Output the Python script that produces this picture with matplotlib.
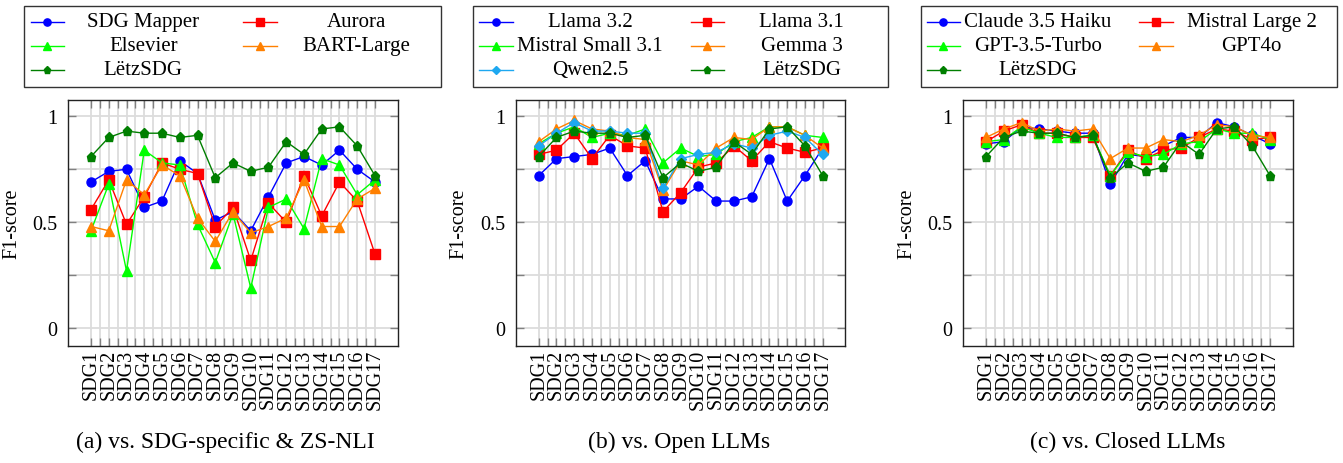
import matplotlib

matplotlib.use("Agg")

import matplotlib.pyplot as plt
from matplotlib.lines import Line2D
from matplotlib.patches import Rectangle
from matplotlib.ticker import FixedLocator, MultipleLocator

plt.rcParams["font.family"] = ["Liberation Serif", "DejaVu Serif"]

W, H = 1343, 464

sdg_labels = ["SDG1", "SDG2", "SDG3", "SDG4", "SDG5", "SDG6", "SDG7", "SDG8", "SDG9",
              "SDG10", "SDG11", "SDG12", "SDG13", "SDG14", "SDG15", "SDG16", "SDG17"]

# shared baseline (ours)
letzsdg = [0.81, 0.90, 0.93, 0.92, 0.92, 0.90, 0.91, 0.71, 0.78, 0.74, 0.76, 0.88, 0.82, 0.94, 0.95, 0.86, 0.72]

# (a) SDG-specific & ZS-NLI
sdg_mapper = [0.69, 0.74, 0.75, 0.57, 0.60, 0.79, 0.73, 0.51, 0.55, 0.46, 0.62, 0.78, 0.81, 0.77, 0.84, 0.75, 0.69]
aurora = [0.56, 0.70, 0.49, 0.62, 0.78, 0.75, 0.73, 0.48, 0.57, 0.32, 0.59, 0.50, 0.72, 0.53, 0.69, 0.60, 0.35]
elsevier = [0.46, 0.68, 0.27, 0.84, 0.78, 0.77, 0.49, 0.31, 0.54, 0.19, 0.57, 0.61, 0.47, 0.80, 0.77, 0.63, 0.70]
bart_large = [0.48, 0.46, 0.70, 0.63, 0.77, 0.72, 0.52, 0.41, 0.55, 0.45, 0.48, 0.52, 0.70, 0.48, 0.48, 0.61, 0.66]

# (b) open LLMs
llama32 = [0.72, 0.80, 0.81, 0.82, 0.85, 0.72, 0.79, 0.61, 0.61, 0.67, 0.60, 0.60, 0.62, 0.80, 0.60, 0.72, 0.85]
llama31 = [0.82, 0.84, 0.92, 0.80, 0.91, 0.86, 0.85, 0.55, 0.64, 0.76, 0.78, 0.86, 0.79, 0.88, 0.85, 0.83, 0.85]
mistral_small = [0.87, 0.92, 0.95, 0.90, 0.92, 0.91, 0.94, 0.78, 0.85, 0.81, 0.82, 0.88, 0.90, 0.95, 0.95, 0.91, 0.90]
gemma3 = [0.88, 0.94, 0.98, 0.94, 0.93, 0.90, 0.89, 0.65, 0.79, 0.77, 0.85, 0.90, 0.89, 0.95, 0.95, 0.91, 0.85]
qwen25 = [0.86, 0.92, 0.97, 0.93, 0.93, 0.92, 0.92, 0.66, 0.80, 0.82, 0.83, 0.87, 0.85, 0.91, 0.93, 0.90, 0.82]

# (c) closed LLMs
claude_haiku = [0.87, 0.88, 0.95, 0.94, 0.93, 0.92, 0.92, 0.68, 0.82, 0.81, 0.86, 0.90, 0.90, 0.97, 0.95, 0.91, 0.87]
mistral_large = [0.88, 0.93, 0.96, 0.92, 0.92, 0.90, 0.90, 0.72, 0.84, 0.80, 0.84, 0.85, 0.90, 0.94, 0.93, 0.89, 0.90]
gpt35 = [0.88, 0.89, 0.95, 0.92, 0.90, 0.90, 0.91, 0.72, 0.83, 0.81, 0.82, 0.87, 0.88, 0.94, 0.92, 0.92, 0.89]
gpt4o = [0.90, 0.94, 0.97, 0.93, 0.94, 0.93, 0.94, 0.80, 0.85, 0.85, 0.89, 0.88, 0.91, 0.96, 0.95, 0.91, 0.90]

BLUE = dict(color="#0000ff", marker="o", ms=6.5)
RED = dict(color="#ff0000", marker="s", ms=6.5)
LIME = dict(color="#00ff00", marker="^", ms=6.5)
ORANGE = dict(color="#ff8000", marker="^", ms=6.5)
SKY = dict(color="#1ea8f0", marker="D", ms=4.8)
DKGREEN = dict(color="#007f00", marker="p", ms=6.5)

panels = [
    {
        "left": 68.3,
        "caption": ("(a) vs. SDG-specific & ZS-NLI", 225),
        "series": [("SDG Mapper", sdg_mapper, BLUE), ("Aurora", aurora, RED),
                   ("Elsevier", elsevier, LIME), ("BART-Large", bart_large, ORANGE),
                   ("LëtzSDG", letzsdg, DKGREEN)],
        "legend": {"box": (24.3, 441.0), "cols": [(31.0, 64.0, 143.3), (243.3, 276.7, 356.0)]},
    },
    {
        "left": 516.0,
        "caption": ("(b) vs. Open LLMs", 679),
        "series": [("Llama 3.2", llama32, BLUE), ("Llama 3.1", llama31, RED),
                   ("Mistral Small 3.1", mistral_small, LIME), ("Gemma 3", gemma3, ORANGE),
                   ("Qwen2.5", qwen25, SKY), ("LëtzSDG", letzsdg, DKGREEN)],
        "legend": {"box": (472.7, 888.3), "cols": [(479.0, 513.0, 590.0), (690.7, 724.0, 801.7)]},
    },
    {
        "left": 963.3,
        "caption": ("(c) vs. Closed LLMs", 1128),
        "series": [("Claude 3.5 Haiku", claude_haiku, BLUE), ("Mistral Large 2", mistral_large, RED),
                   ("GPT-3.5-Turbo", gpt35, LIME), ("GPT4o", gpt4o, ORANGE),
                   ("LëtzSDG", letzsdg, DKGREEN)],
        "legend": {"box": (920.7, 1336.7), "cols": [(926.7, 960.0, 1038.0), (1139.0, 1172.7, 1251.7)]},
    },
]

AX_W, AX_TOP, AX_BOTTOM = 329.4, 100.7, 346.7
LEG_TOP, LEG_BOTTOM = 6.7, 87.7
LEG_ROWS = [22.7, 46.7, 71.0]
FS = 14


def fx(px):
    return px / W


def fy(py):
    return 1 - py / H


def _style_axis(ax):
    x = list(range(len(sdg_labels)))
    ax.set_xlim(-1.28, len(sdg_labels) - 1 + 1.28)
    ax.set_ylim(-0.082, 1.078)
    ax.xaxis.set_major_locator(FixedLocator(x))
    ax.xaxis.set_minor_locator(FixedLocator([v + 0.5 for v in x[:-1]]))
    ax.set_xticklabels(sdg_labels, rotation=90, fontsize=FS + 0.5)
    ax.yaxis.set_major_locator(FixedLocator([0, 0.5, 1]))
    ax.yaxis.set_minor_locator(MultipleLocator(0.25))
    ax.set_yticklabels(["0", "0.5", "1"], fontsize=FS + 0.5)
    ax.grid(True, which="both", color="#dcdcdc", linewidth=1.3, zorder=0)
    ax.tick_params(which="both", direction="in", top=True, right=True,
                   length=6, width=1.0, color="#808080")
    ax.tick_params(axis="x", which="both", pad=2)
    ax.tick_params(axis="y", which="both", pad=8)
    for spine in ax.spines.values():
        spine.set_linewidth(1.0)
        spine.set_color("#222222")
    ax.set_ylabel("F1-score", fontsize=FS + 0.5, labelpad=8)
    ax.set_axisbelow(True)


def _draw_legend(fig, spec, series):
    x0, x1 = spec["box"]
    fig.add_artist(Rectangle((fx(x0), fy(LEG_BOTTOM)), fx(x1 - x0), (LEG_BOTTOM - LEG_TOP) / H,
                             transform=fig.transFigure, facecolor="white",
                             edgecolor="#333333", linewidth=1.0))
    for i, (label, _, style) in enumerate(series):
        row, col = divmod(i, 2)
        h0, h1, tx = spec["cols"][col]
        y = fy(LEG_ROWS[row])
        fig.add_artist(Line2D([fx(h0), fx(h1)], [y, y], transform=fig.transFigure,
                              color=style["color"], linewidth=1.0))
        fig.add_artist(Line2D([fx((h0 + h1) / 2)], [y], transform=fig.transFigure,
                              color=style["color"], marker=style["marker"],
                              markersize=style["ms"] * 0.8, linestyle="none"))
        fig.text(fx(tx), y, label, ha="center", va="center", fontsize=FS + 1)


fig = plt.figure(figsize=(W / 100, H / 100), dpi=100)
for panel in panels:
    ax = fig.add_axes([fx(panel["left"]), fy(AX_BOTTOM), fx(AX_W), (AX_BOTTOM - AX_TOP) / H])
    x = list(range(len(sdg_labels)))
    for label, values, style in panel["series"]:
        ax.plot(x, values, color=style["color"], marker=style["marker"],
                markersize=style["ms"], linewidth=1.0, label=label, zorder=3)
    _style_axis(ax)
    _draw_legend(fig, panel["legend"], panel["series"])
    text, cx = panel["caption"]
    fig.text(fx(cx), fy(442), text, ha="center", va="center", fontsize=17)

fig.savefig("out.png", dpi=100)
